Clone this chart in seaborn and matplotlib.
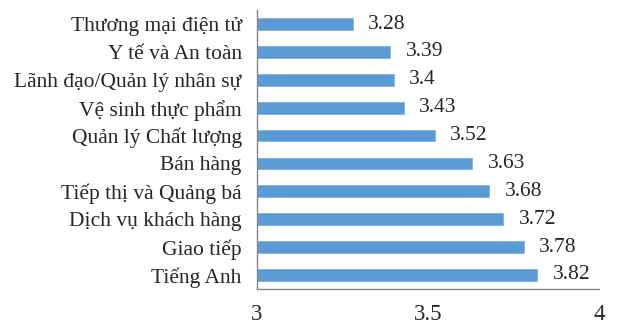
import matplotlib
matplotlib.use("Agg")
import matplotlib.pyplot as plt
import seaborn as sns
import pandas as pd
import numpy as np

categories = ["Thương mại điện tử", "Y tế và An toàn", "Lãnh đạo/Quản lý nhân sự",
              "Vệ sinh thực phẩm", "Quản lý Chất lượng", "Bán hàng",
              "Tiếp thị và Quảng bá", "Dịch vụ khách hàng", "Giao tiếp", "Tiếng Anh"]
values = [3.28, 3.39, 3.4, 3.43, 3.52, 3.63, 3.68, 3.72, 3.78, 3.82]
value_labels = ["3.28", "3.39", "3.4", "3.43", "3.52", "3.63", "3.68", "3.72", "3.78", "3.82"]
x_ticks = [3, 3.5, 4]
x_tick_labels = ["3", "3.5", "4"]

sns.set_style("white")
plt.rcParams['font.family'] = ['Liberation Serif', 'DejaVu Serif']

df = pd.DataFrame({"cat": categories, "val": values})

fig = plt.figure(figsize=(6.17, 3.25), dpi=100)
ax = fig.add_axes([0.4165, 0.111, 0.9706 - 0.4165, 0.969 - 0.111])
sns.barplot(data=df, y="cat", x="val", orient="h", color="#5B9BD5",
            width=0.42, edgecolor="#7FB3E0", linewidth=0.6, saturation=1, ax=ax)

ax.set_xlim(3, 4)
ax.set_ylim(len(categories) - 0.5, -0.5)
ax.set_xticks(x_ticks)
ax.set_xticklabels(x_tick_labels, fontsize=16.5)
ax.set_xlabel("")
ax.set_ylabel("")
ax.tick_params(axis="y", which="major", length=0, labelsize=15.5, pad=11)
ax.set_yticks(np.arange(-0.5, len(categories), 1), minor=True)
ax.tick_params(axis="y", which="minor", length=5, color="#868686", width=1)
ax.tick_params(axis="x", which="major", length=5, color="#868686", width=1, direction="out", pad=6)

for s in ["top", "right"]:
    ax.spines[s].set_visible(False)
for s in ["left", "bottom"]:
    ax.spines[s].set_color("#868686")
    ax.spines[s].set_linewidth(1)

for i, (v, lab) in enumerate(zip(values, value_labels)):
    ax.text(v + 0.045, i, lab, va="center", ha="left", fontsize=15.5)

fig.savefig("out.png", dpi=100)
